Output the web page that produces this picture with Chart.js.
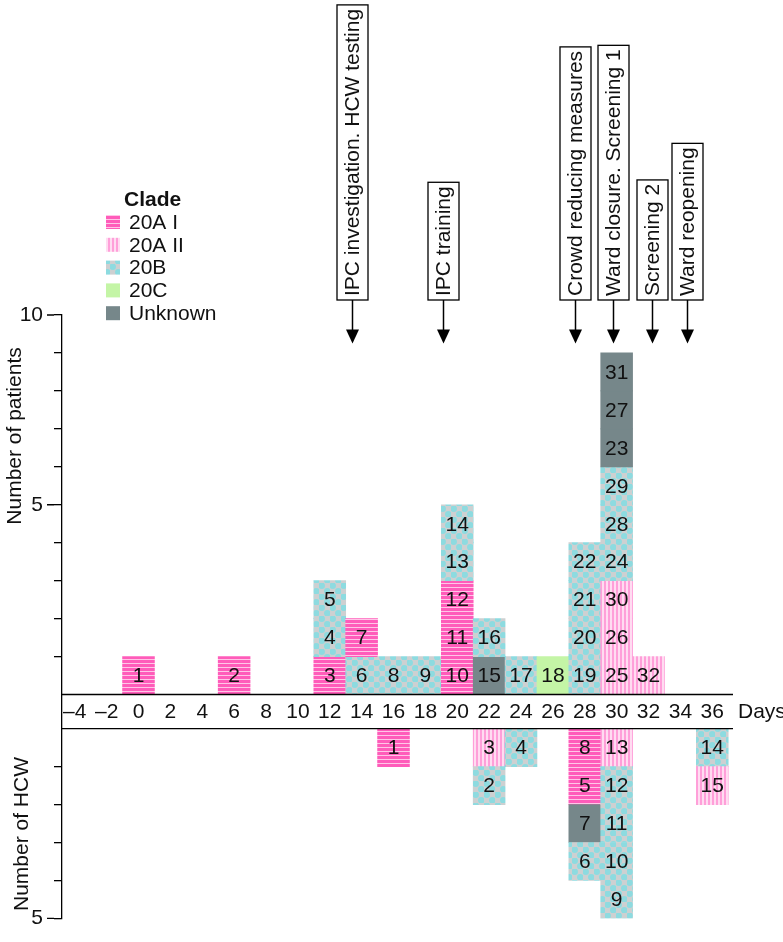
<!DOCTYPE html>
<html>
<head>
<meta charset="utf-8">
<script src="https://cdn.jsdelivr.net/npm/chart.js@4/dist/chart.umd.min.js"></script>
<style>
  html, body { margin: 0; padding: 0; background: #fff; }
  canvas { display: block; }
</style>
</head>
<body>
<canvas id="epiCurve" width="783" height="942"></canvas>
<script>
// clades shown in the legend
const clades = ['20A I', '20A II', '20B', '20C', 'Unknown'];

// patients: day, case number, clade (bottom -> top within a day)
const patientDays   = [0, 6, 12, 12, 12, 14, 14, 16, 18, 20, 20, 20, 20, 20, 22, 22, 24, 26, 28, 28, 28, 28, 30, 30, 30, 30, 30, 30, 30, 30, 30, 32];
const patientIds    = [1, 2, 3, 4, 5, 6, 7, 8, 9, 10, 11, 12, 13, 14, 15, 16, 17, 18, 19, 20, 21, 22, 25, 26, 30, 24, 28, 29, 23, 27, 31, 32];
const patientClades = ['20A I', '20A I', '20A I', '20B', '20B', '20B', '20A I', '20B', '20B',
                       '20A I', '20A I', '20A I', '20B', '20B', 'Unknown', '20B', '20B', '20C',
                       '20B', '20B', '20B', '20B', '20A II', '20A II', '20A II', '20B', '20B', '20B',
                       'Unknown', 'Unknown', 'Unknown', '20A II'];

// health care workers: day, case number, clade (top -> bottom below the axis)
const hcwDays   = [16, 22, 22, 24, 28, 28, 28, 28, 30, 30, 30, 30, 30, 36, 36];
const hcwIds    = [1, 3, 2, 4, 8, 5, 7, 6, 13, 12, 11, 10, 9, 14, 15];
const hcwClades = ['20A I', '20A II', '20B', '20B', '20A I', '20A I', 'Unknown', '20B',
                   '20A II', '20B', '20B', '20B', '20B', '20B', '20A II'];

// axis ticks
const dayTicks = [-4, -2, 0, 2, 4, 6, 8, 10, 12, 14, 16, 18, 20, 22, 24, 26, 28, 30, 32, 34, 36];
const patientTicks = [1, 2, 3, 4, 5, 6, 7, 8, 9, 10];
const patientLabeled = [5, 10];
const hcwTicks = [1, 2, 3, 4, 5];
const hcwLabeled = [5];

// interventions (day, text)
const eventDays = [13.4, 19.1, 27.4, 29.8, 32.2, 34.4];
const eventLabels = ['IPC investigation. HCW testing', 'IPC training', 'Crowd reducing measures',
                     'Ward closure. Screening 1', 'Screening 2', 'Ward reopening'];

const GAP = 0.9; // room between the two baselines, in y units
const FONT = '"Liberation Sans", Arial, Helvetica, sans-serif';

// fill patterns
function tile(w, h, draw) {
  const c = document.createElement('canvas');
  c.width = w; c.height = h;
  draw(c.getContext('2d'));
  return c.getContext('2d').createPattern(c, 'repeat');
}
const fills = {
  '20A I': tile(4, 4, g => {
    g.fillStyle = '#ff5cba'; g.fillRect(0, 0, 4, 4);
    g.fillStyle = '#ffc6e7'; g.fillRect(0, 3, 4, 1);
  }),
  '20A II': tile(4, 4, g => {
    g.fillStyle = '#ffdcf1'; g.fillRect(0, 0, 4, 4);
    g.fillStyle = '#ff9fd9'; g.fillRect(0, 0, 2, 4);
  }),
  '20B': tile(11, 11, g => {
    g.fillStyle = '#cdd0d1'; g.fillRect(0, 0, 11, 11);
    g.fillStyle = '#8ddbe0';
    [[2.75, 2.75], [8.25, 8.25]].forEach(p => { g.beginPath(); g.arc(p[0], p[1], 3.2, 0, Math.PI * 2); g.fill(); });
  }),
  '20C': '#c4f5a6',
  'Unknown': '#76878a'
};

// stack each day's boxes
function boxes(days, ids, cl, above) {
  const n = {};
  return days.map((d, i) => {
    const k = n[d] || 0; n[d] = k + 1;
    const y = above ? [k, k + 1] : [-(GAP + k + 1), -(GAP + k)];
    return { x: d, y: y, id: ids[i], clade: cl[i] };
  });
}
const allBoxes = boxes(patientDays, patientIds, patientClades, true)
  .concat(boxes(hcwDays, hcwIds, hcwClades, false));

const overlay = {
  id: 'overlay',
  afterDatasetsDraw(chart) {
    const ctx = chart.ctx;
    const meta = chart.getDatasetMeta(0);
    ctx.save();
    ctx.font = '21px ' + FONT;
    ctx.fillStyle = '#111';
    ctx.textAlign = 'center';
    ctx.textBaseline = 'middle';
    meta.data.forEach((bar, i) => {
      ctx.fillText(String(allBoxes[i].id), bar.x, (bar.y + bar.base) / 2 + 1);
    });
    ctx.restore();
  },
  afterDraw(chart) {
    const { ctx, chartArea: a, scales: { x, y } } = chart;
    ctx.save();
    ctx.strokeStyle = '#000';
    ctx.fillStyle = '#111';
    ctx.lineWidth = 1.3;

    // double day axis
    const y0 = y.getPixelForValue(0), y1 = y.getPixelForValue(-GAP);
    ctx.beginPath();
    ctx.moveTo(a.left, y0); ctx.lineTo(a.right, y0);
    ctx.moveTo(a.left, y1); ctx.lineTo(a.right, y1);
    ctx.stroke();
    ctx.font = '21px ' + FONT;
    ctx.textAlign = 'center';
    ctx.textBaseline = 'middle';
    const ym = (y0 + y1) / 2 + 1;
    dayTicks.forEach(d => ctx.fillText(d < 0 ? '\u2013' + (-d) : String(d), x.getPixelForValue(d), ym));
    ctx.textAlign = 'left';
    ctx.fillText('Days', a.right + 5, ym);

    // longer ticks where labelled
    ctx.beginPath();
    patientLabeled.forEach(v => { const p = y.getPixelForValue(v); ctx.moveTo(a.left - 15, p); ctx.lineTo(a.left - 8, p); });
    hcwLabeled.forEach(v => { const p = y.getPixelForValue(-(GAP + v)); ctx.moveTo(a.left - 15, p); ctx.lineTo(a.left - 8, p); });
    ctx.stroke();

    // axis titles
    ctx.font = '21px ' + FONT;
    ctx.textAlign = 'center';
    [['Number of patients', 15, 436], ['Number of HCW', 22, 834]].forEach(t => {
      ctx.save(); ctx.translate(t[1], t[2]); ctx.rotate(-Math.PI / 2);
      ctx.fillText(t[0], 0, 0); ctx.restore();
    });

    // legend
    ctx.textAlign = 'left';
    ctx.font = 'bold 21px ' + FONT;
    ctx.fillText('Clade', 124, 200);
    ctx.font = '21px ' + FONT;
    clades.forEach((c, i) => {
      const cy = 222 + i * 22.8;
      ctx.fillStyle = fills[c];
      ctx.fillRect(106, cy - 7, 14, 14);
      ctx.fillStyle = '#111';
      ctx.fillText(c, 129, cy + 1);
    });

    // intervention boxes and arrows
    const bottom = a.top - 15;
    const tip = y.getPixelForValue(9.25);
    eventDays.forEach((d, i) => {
      const cx = Math.round(x.getPixelForValue(d)) + 0.5;
      const h = ctx.measureText(eventLabels[i]).width + 8;
      ctx.fillStyle = '#fff';
      ctx.fillRect(cx - 15.5, bottom - h, 31, h);
      ctx.strokeRect(cx - 15.5, bottom - h, 31, h);
      ctx.fillStyle = '#111';
      ctx.save(); ctx.translate(cx, bottom - h / 2); ctx.rotate(-Math.PI / 2);
      ctx.textAlign = 'center'; ctx.fillText(eventLabels[i], 0, 1); ctx.restore();
      ctx.lineWidth = 1.5;
      ctx.beginPath(); ctx.moveTo(cx, bottom); ctx.lineTo(cx, tip - 12); ctx.stroke();
      ctx.fillStyle = '#000';
      ctx.beginPath(); ctx.moveTo(cx - 6.5, tip - 14); ctx.lineTo(cx + 6.5, tip - 14); ctx.lineTo(cx, tip); ctx.closePath(); ctx.fill();
      ctx.lineWidth = 1.3;
    });
    ctx.restore();
  }
};

new Chart(document.getElementById('epiCurve'), {
  type: 'bar',
  data: {
    datasets: [{
      label: 'Cases',
      data: allBoxes,
      backgroundColor: c => (c.raw ? fills[c.raw.clade] : '#ccc'),
      borderWidth: 0,
      barPercentage: 1,
      categoryPercentage: 1
    }]
  },
  options: {
    responsive: false,
    animation: false,
    layout: { padding: { top: 315, bottom: 14, left: 0, right: 50 } },
    plugins: { legend: { display: false }, tooltip: { enabled: false } },
    scales: {
      x: {
        type: 'linear',
        min: -4.8,
        max: 37.3,
        offset: false,
        display: false,
        afterBuildTicks: s => { s.ticks = dayTicks.map(v => ({ value: v })); }
      },
      y: {
        min: -(GAP + 5),
        max: 10,
        afterFit: s => { s.width = 62; },
        afterBuildTicks: s => {
          s.ticks = patientTicks.map(v => ({ value: v }))
            .concat(hcwTicks.map(v => ({ value: -(GAP + v) })));
        },
        ticks: {
          autoSkip: false,
          padding: 11,
          color: '#111',
          font: { size: 21, family: FONT },
          callback: v => {
            if (v > 0) return patientLabeled.includes(v) ? String(v) : '';
            const n = Math.round(-v - GAP);
            return hcwLabeled.includes(n) ? String(n) : '';
          }
        },
        grid: { drawOnChartArea: false, tickLength: 8, color: '#000', lineWidth: 1.3 },
        border: { color: '#000', width: 1.3 }
      }
    }
  },
  plugins: [overlay]
});
</script>
</body>
</html>
